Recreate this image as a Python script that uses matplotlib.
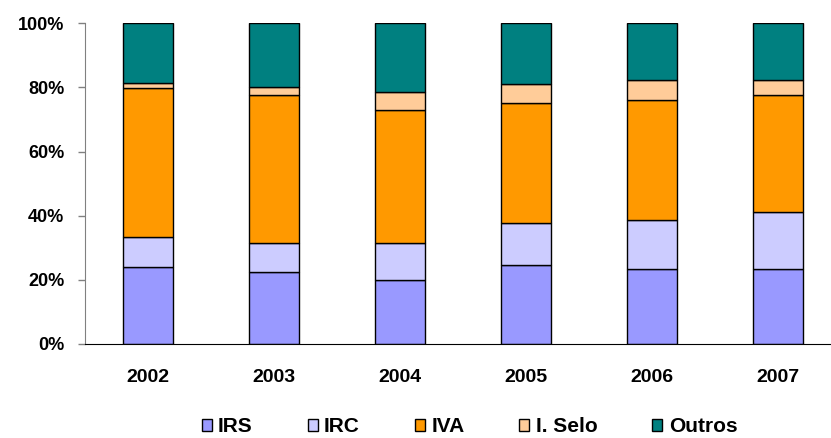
import numpy as np
import matplotlib.pyplot as plt
from matplotlib.patches import Rectangle
from matplotlib.ticker import FuncFormatter

# Tax revenue shares (% of total)
years = ["2002", "2003", "2004", "2005", "2006", "2007"]
irs = [23.9, 22.5, 20.1, 24.7, 23.5, 23.5]
irc = [9.4, 9.1, 11.5, 12.9, 15.1, 17.7]
iva = [46.4, 45.9, 41.4, 37.4, 37.4, 36.3]
selo = [1.8, 2.6, 5.5, 6.1, 6.3, 4.8]
outros = [18.5, 19.9, 21.5, 18.9, 17.7, 17.7]

series = [("IRS", irs, "#9999FF"),
          ("IRC", irc, "#CCCCFF"),
          ("IVA", iva, "#FF9900"),
          ("I. Selo", selo, "#FFCC99"),
          ("Outros", outros, "#008080")]

plt.rcParams['font.family'] = ['Liberation Sans', 'DejaVu Sans']
plt.rcParams['font.weight'] = 'bold'

W, H = 831, 438
fig = plt.figure(figsize=(W / 100, H / 100), dpi=100)
ax = fig.add_axes([85 / W, 1 - 344 / H, (W - 85) / W, (344 - 23.3) / H])

x = np.arange(len(years))
bottom = np.zeros(len(years))
handles = []
for name, vals, color in series:
    vals = np.array(vals)
    ax.bar(x, vals, bottom=bottom, width=0.397, color=color,
           edgecolor="black", linewidth=1.0)
    bottom += vals
    handles.append(Rectangle((0, 0), 1, 1, facecolor=color,
                             edgecolor="black", linewidth=1.0, label=name))

ax.set_ylim(0, 100)
ax.set_xlim(-0.5, -0.5 + (W - 85) / 126)
ax.set_yticks([0, 20, 40, 60, 80, 100])
ax.yaxis.set_major_formatter(FuncFormatter(lambda v, p: f"{int(v)}%"))
ax.set_xticks(x)
ax.set_xticklabels(years)

ax.spines['top'].set_visible(False)
ax.spines['right'].set_visible(False)
ax.spines['left'].set_color("#808080")
ax.spines['bottom'].set_color("black")
ax.tick_params(axis='y', length=5, width=1, color="#808080", pad=10,
               labelsize=13)
ax.tick_params(axis='x', length=0, pad=18, labelsize=14)
for lbl in ax.get_xticklabels() + ax.get_yticklabels():
    lbl.set_fontweight('bold')

fig.legend(handles=handles, loc='center', ncol=5,
           bbox_to_anchor=(469.5 / W, 1 - 427 / H), frameon=False,
           prop={'size': 15, 'weight': 'bold'},
           handlelength=0.48, handleheight=0.48, handletextpad=0.3,
           columnspacing=2.64, borderpad=0)

fig.savefig("out.png", dpi=100)
